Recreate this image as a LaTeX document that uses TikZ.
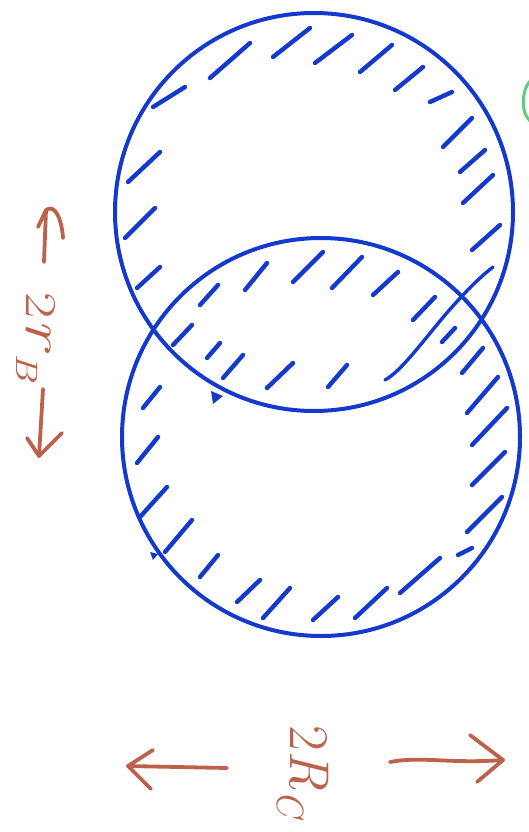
\documentclass[tikz,border=0pt]{standalone}
\usepackage{graphicx}
\definecolor{ink}{RGB}{20,58,205}
\definecolor{pen}{RGB}{188,98,76}
\definecolor{hl}{RGB}{95,205,125}
\newcommand{\subtxt}[2]{\raisebox{-0.22em}{\fontsize{#1}{#1}\selectfont\itshape #2}}
\begin{document}
\begin{tikzpicture}[x=1pt,y=-1pt,
  ring/.style={circle,draw=ink,line width=4pt,inner sep=0pt,minimum size=398pt},
  hatch/.style={draw=ink,line width=4.4pt,line cap=round},
  arr/.style={draw=pen,line width=3.8pt,line cap=round,line join=round},
  lbl/.style={text=pen,rotate=-90,anchor=base west,inner sep=0pt}]
\useasboundingbox (0,0) rectangle (529,832);
\fill[white] (0,0) rectangle (529,832);
% circles
\node[ring] (top) at (314,212) {};
\node[ring] (bot) at (321,437) {};
% hatch marks
\foreach \a/\b/\c/\d in {
 210/78/250/43, 273/57/310/28, 315/63/352/35, 360/72/392/45, 395/90/423/67,
 430/102/452/92, 443/147/472/118, 460/172/485/150, 463/203/493/175, 472/250/500/225,
 153/107/185/87, 128/182/160/152, 125/238/155/208, 137/288/160/267,
 200/305/218/285, 245/290/267/263, 293/282/323/252, 332/288/362/257, 373/295/398/272,
 413/320/435/297, 173/345/192/325, 207/358/220/343, 223/378/243/355, 267/388/293/363,
 328/387/347/365, 442/342/455/328,
 143/408/160/387, 137/463/158/437, 140/517/167/487, 165/552/192/520, 200/577/218/555,
 237/602/260/580, 263/618/290/588, 313/620/338/597, 355/618/387/588, 400/593/440/558,
 458/555/472/548, 467/532/502/497, 472/485/505/452, 472/445/507/408, 467/413/498/377,
 462/373/483/348}
 \draw[hatch] (\a,\b) -- (\c,\d);
\draw[hatch,line width=3.4pt] (385,380) .. controls (400,372) and (420,345) .. (445,315)
  .. controls (465,292) and (480,277) .. (493,267);
% small pen notches
\fill[ink] (211,391) -- (223,396) -- (213,404) -- cycle;
\fill[ink] (150,552) -- (158,554) -- (153,560) -- cycle;
% labels
\node[lbl,font=\fontsize{56}{60}\selectfont] (rc) at (290,725) {2\textit{R}\subtxt{38}{C}};
\node[lbl,font=\fontsize{44}{48}\selectfont] (rb) at (26,292) {\scalebox{1.3}[1]{2{\fontsize{56}{60}\selectfont\textit{r}}\subtxt{31}{B}}};
% arrows for r_B
\coordinate (a1t) at (46,210);
\coordinate (a1b) at (44,262);
\draw[arr] (a1b) -- (a1t);
\draw[arr] (38,227) -- (a1t) .. controls (56,203) and (62,222) .. (63,238);
\coordinate (a2t) at (43,389);
\coordinate (a2b) at (39,456);
\draw[arr] (a2t) -- (a2b);
\draw[arr] (27,438) -- (a2b) -- (62,433);
% arrows for 2R_C
\coordinate (a3s) at (227,768);
\coordinate (a3e) at (128,766);
\draw[arr] (a3s) -- (a3e);
\draw[arr] (153,750) -- (a3e) -- (151,789);
\coordinate (a4s) at (390,762);
\coordinate (a4e) at (503,760);
\draw[arr] (a4s) .. controls (420,756) and (450,764) .. (a4e);
\draw[arr] (470,735) -- (a4e) -- (477,782);
% green mark at the edge
\draw[hl,line width=3pt] (531,80) .. controls (522,88) and (520,112) .. (530,121);
\end{tikzpicture}
\end{document}
